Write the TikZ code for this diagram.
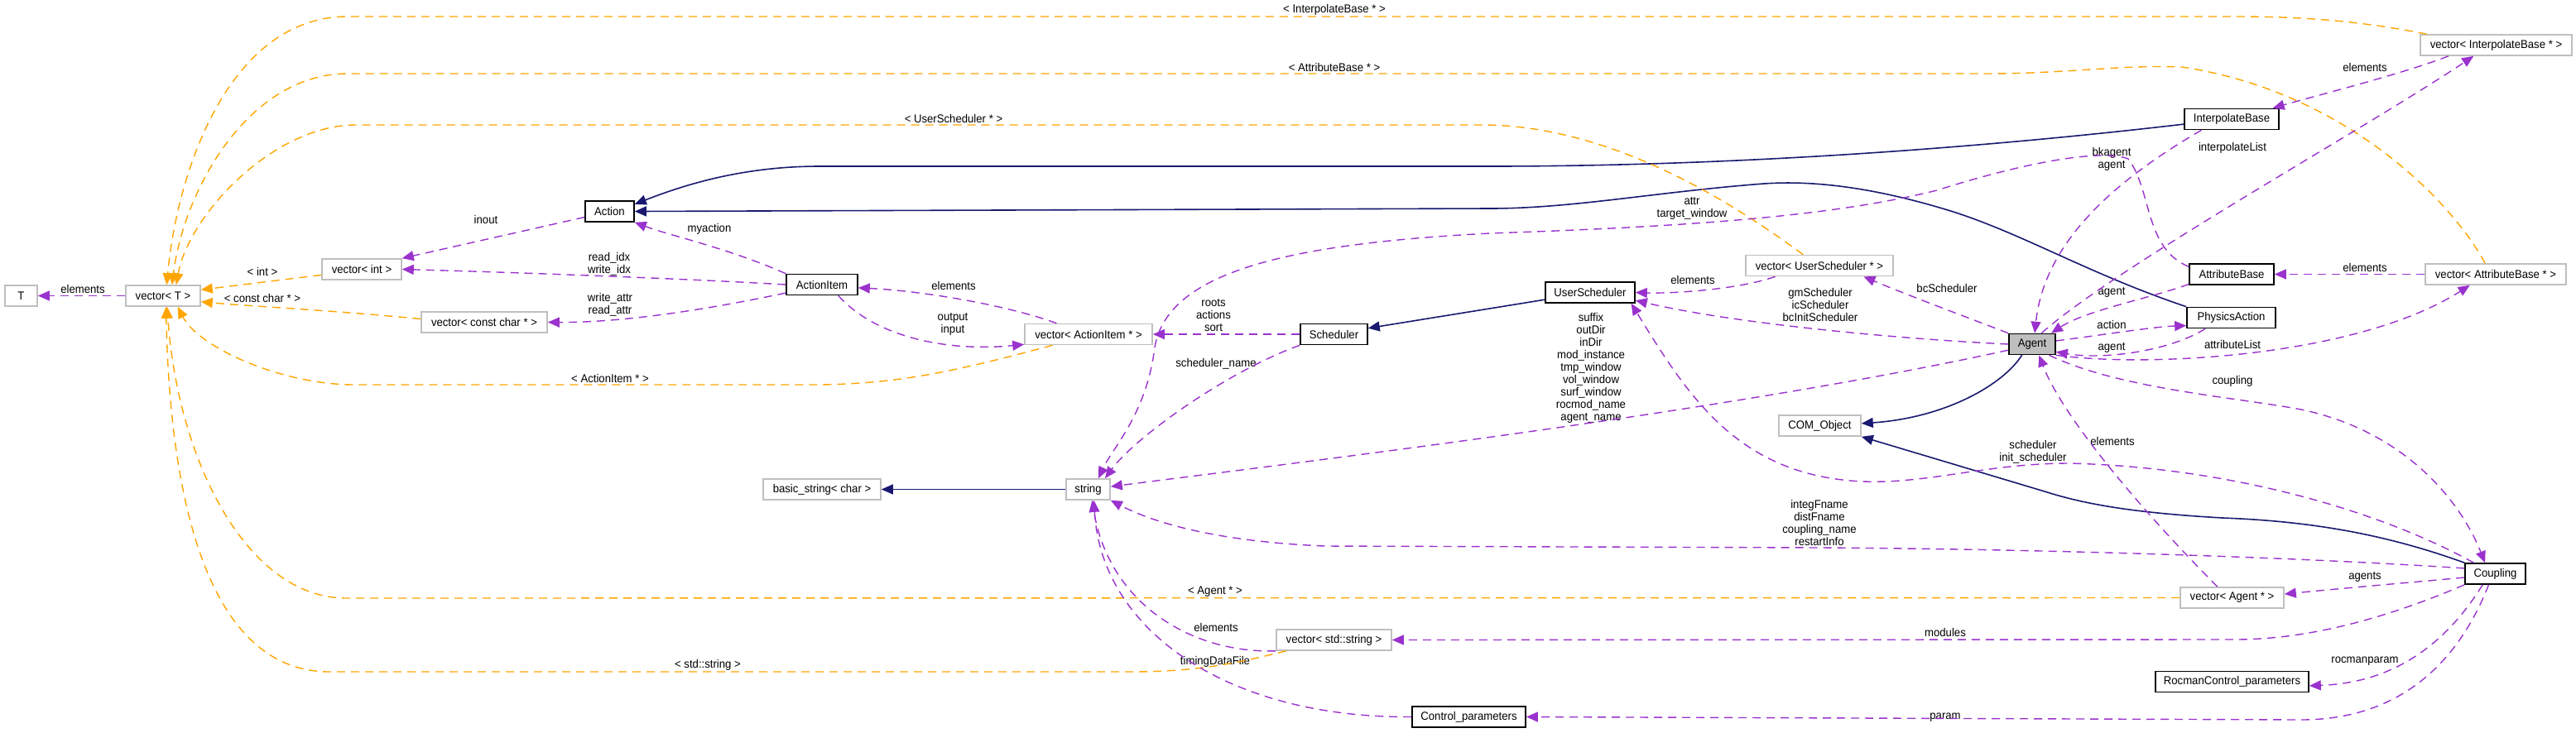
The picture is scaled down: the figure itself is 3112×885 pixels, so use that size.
\documentclass[tikz,border=0pt]{standalone}
\usepackage{fontspec}
\setmainfont{Liberation Sans}[FakeStretch=0.94]
\usetikzlibrary{arrows.meta}
\definecolor{navy}{HTML}{191970}
\definecolor{orch}{HTML}{9A32CD}
\definecolor{orng}{HTML}{FFA500}
\definecolor{gbord}{HTML}{BFBFBF}
\newcommand{\lblfont}{\fontsize{7}{7.5}\selectfont}
\tikzset{
  cls/.style={draw=black, line width=0.8pt, fill=white, minimum height=12.5pt, inner sep=0pt, font=\lblfont},
  ucls/.style={cls, draw=gbord},
  lab/.style={font=\lblfont, align=center, inner sep=0pt},
  inh/.style={draw=navy, line width=0.8pt, -{Triangle[length=7pt,width=6pt]}},
  use/.style={draw=orch, line width=0.7pt, dash pattern=on 5pt off 3.5pt, -{Triangle[length=7pt,width=6pt]}},
  tmpl/.style={draw=orng, line width=0.7pt, dash pattern=on 5pt off 3.5pt, -{Triangle[length=7pt,width=6pt]}},
}
\begin{document}
\begin{tikzpicture}[x=0.5pt,y=-0.5pt]
\useasboundingbox (0,0) rectangle (3112,885);
% nodes
\node[ucls, minimum width=19.5pt] (T) at (25.5,357.5) {T};
\node[ucls, minimum width=45pt] (vT) at (197,357.5) {vector< T >};
\node[ucls, minimum width=48pt] (vint) at (437,325.5) {vector< int >};
\node[ucls, minimum width=76pt] (vcc) at (585,389.5) {vector< const char * >};
\node[cls, minimum width=29.5pt] (Action) at (736.5,255.5) {Action};
\node[cls, minimum width=43pt] (AI) at (993,344) {ActionItem};
\node[ucls, minimum width=77pt] (vAI) at (1315,404) {vector< ActionItem * >};
\node[cls, minimum width=40.5pt] (Sched) at (1611.5,404) {Scheduler};
\node[cls, minimum width=54pt] (US) at (1921,353.5) {UserScheduler};
\node[ucls, minimum width=89pt] (vUS) at (2198,321) {vector< UserScheduler * >};
\node[ucls, minimum width=71pt] (bstr) at (993,591.5) {basic\_string< char >};
\node[ucls, minimum width=26.5pt] (str) at (1314.5,591.5) {string};
\node[ucls, minimum width=69.5pt] (vstr) at (1611.5,773.5) {vector< std::string >};
\node[cls, minimum width=68.5pt] (CP) at (1774.5,866.5) {Control\_parameters};
\node[ucls, minimum width=49.5pt] (COM) at (2198.5,514.5) {COM\_Object};
\node[cls, fill=gbord, minimum width=28pt] (Agent) at (2455,416) {Agent};
\node[cls, minimum width=57pt] (IB) at (2696,144) {InterpolateBase};
\node[cls, minimum width=51pt] (AB) at (2696,331.5) {AttributeBase};
\node[cls, minimum width=53.5pt] (PA) at (2695.5,384) {PhysicsAction};
\node[ucls, minimum width=91.5pt] (vIB) at (3015.5,54.5) {vector< InterpolateBase * >};
\node[ucls, minimum width=85pt] (vAB) at (3015,331.5) {vector< AttributeBase * >};
\node[ucls, minimum width=62.5pt] (vAg) at (2696.5,722.5) {vector< Agent * >};
\node[cls, minimum width=92.5pt] (RCP) at (2696.5,824) {RocmanControl\_parameters};
\node[cls, minimum width=36.5pt] (Coup) at (3014.5,693.5) {Coupling};
% labels
\node[lab] (l1) at (100,349) {elements};
\node[lab] (l2) at (317,328) {< int >};
\node[lab] (l3) at (317,360) {< const char * >};
\node[lab] (l4) at (587,265) {inout};
\node[lab] (l5) at (736,319.5) {read\_idx\\write\_idx};
\node[lab] (l6) at (737,368.5) {write\_attr\\read\_attr};
\node[lab] (l7) at (857,277) {myaction};
\node[lab] (l8) at (1152,345) {elements};
\node[lab] (l9) at (1151,392) {output\\input};
\node[lab] (l10) at (1466,381.5) {roots\\actions\\sort};
\node[lab] (l11) at (1469,440) {scheduler\_name};
\node[lab] (l12) at (1612,12) {< InterpolateBase * >};
\node[lab] (l13) at (1612,81) {< AttributeBase * >};
\node[lab] (l14) at (1152,143) {< UserScheduler * >};
\node[lab] (l15) at (737,457) {< ActionItem * >};
\node[lab] (l16) at (1468,715) {< Agent * >};
\node[lab] (l17) at (855,804) {< std::string >};
\node[lab] (l18) at (2044,252) {attr\\target\_window};
\node[lab] (l19) at (2045,338) {elements};
\node[lab] (l20) at (2199,368) {gmScheduler\\icScheduler\\bcInitScheduler};
\node[lab] (l21) at (2352,348) {bcScheduler};
\node[lab] (l22) at (1922,445) {suffix\\outDir\\inDir\\mod\_instance\\tmp\_window\\vol\_window\\surf\_window\\rocmod\_name\\agent\_name};
\node[lab] (l23) at (2198,632) {integFname\\distFname\\coupling\_name\\restartInfo};
\node[lab] (l24) at (1469,758) {elements};
\node[lab] (l25) at (1468,800) {timingDataFile};
\node[lab] (l26) at (2350,764) {modules};
\node[lab] (l27) at (2350,867) {param};
\node[lab] (l28) at (2857,81) {elements};
\node[lab] (l29) at (2697,179) {interpolateList};
\node[lab] (l30) at (2551,192) {bkagent\\agent};
\node[lab] (l31) at (2857,323) {elements};
\node[lab] (l32) at (2551,353) {agent};
\node[lab] (l33) at (2551,392) {action};
\node[lab] (l34) at (2551,420) {agent};
\node[lab] (l35) at (2697,416) {attributeList};
\node[lab] (l36) at (2697,461) {coupling};
\node[lab] (l37) at (2552,533) {elements};
\node[lab] (l38) at (2456,546.5) {scheduler\\init\_scheduler};
\node[lab] (l39) at (2857,697) {agents};
\node[lab] (l40) at (2857,799) {rocmanparam};
% inheritance
\draw[inh] (IB.-174) .. controls (2400,178) and (2100,201) .. (1800,201) -- (990,201) .. controls (900,201) and (830,222) .. (Action.16);
\draw[inh] (PA.north west) .. controls (2520,330) and (2440,280) .. (2350,253) .. controls (2260,226) and (2190,218) .. (2131,222) .. controls (2000,232) and (1900,252) .. (1800,252) -- (Action.east);
\draw[inh] (Agent.-133) .. controls (2420,465) and (2350,505) .. (COM.3);
\draw[inh] (Coup.north west) .. controls (2880,645) and (2790,630) .. (2685,626) .. controls (2580,620) and (2520,610) .. (2470,594) -- (COM.south east);
\draw[inh] (US.-171) -- (Sched.10);
\draw[inh] (str.west) -- (bstr.east);
% templates
\draw[tmpl] (vIB.171) .. controls (2850,25) and (2780,20) .. (2700,20) -- (420,20) .. controls (280,20) and (215,200) .. (vT.72);
\draw[tmpl] (vAB.134) .. controls (2960,240) and (2830,110) .. (2636,81) .. controls (2560,78) and (2500,89) .. (2400,89) -- (420,89) .. controls (300,89) and (222,230) .. (vT.51);
\draw[tmpl] (vUS.146) .. controls (2100,250) and (1950,151) .. (1790,151) -- (430,151) .. controls (330,151) and (228,260) .. (vT.40);
\draw[tmpl] (vint.-172) -- (vT.9);
\draw[tmpl] (vcc.177) .. controls (400,375) and (300,370) .. (vT.-9);
\draw[tmpl] (vAI.-163) .. controls (1150,450) and (1080,465) .. (980,465) -- (428,465) .. controls (340,465) and (240,420) .. (vT.-37);
\draw[tmpl] (vAg.west) -- (418,723) .. controls (300,723) and (215,560) .. (vT.-70);
\draw[tmpl] (vstr.-167) .. controls (1500,800) and (1450,812) .. (1367,812) -- (398,812) .. controls (250,812) and (205,600) .. (vT.-75);
% usage
\draw[use] (vT.west) -- (T.east);
\draw[use] (Action.-167) -- (vint.north east);
\draw[use] (AI.west) .. controls (850,338) and (650,330) .. (vint.east);
\draw[use] (AI.-167) .. controls (850,375) and (750,390) .. (vcc.east);
\draw[use] (AI.north west) .. controls (880,300) and (810,285) .. (Action.south east);
\draw[use] (vAI.161) .. controls (1220,370) and (1120,352) .. (AI.-5);
\draw[use] (AI.-34) .. controls (1060,410) and (1150,425) .. (vAI.-171);
\draw[use] (Sched.west) -- (vAI.east);
\draw[use] (Sched.south west) .. controls (1480,450) and (1370,530) .. (str.33);
\draw[use] (vUS.-166) .. controls (2100,350) and (2020,355) .. (US.east);
\draw[use] (Agent.west) .. controls (2300,410) and (2100,392) .. (US.-10);
\draw[use] (Coup.153) .. controls (2880,620) and (2700,565) .. (2500,560) .. controls (2400,560) and (2330,585) .. (2250,582) .. controls (2100,575) and (2040,480) .. (US.-15);
\draw[use] (Agent.north west) .. controls (2380,385) and (2300,355) .. (vUS.-14);
\draw[use] (Agent.-166) .. controls (2100,495) and (1600,555) .. (str.7);
\draw[use] (Agent.8) .. controls (2540,405) and (2600,395) .. (PA.-170);
\draw[use] (PA.-157) .. controls (2620,425) and (2540,435) .. (Agent.-18);
\draw[use] (AB.-167) .. controls (2600,360) and (2520,375) .. (Agent.30);
\draw[use] (IB.-160) .. controls (2560,215) and (2470,290) .. (Agent.77);
\draw[use] (AB.170) .. controls (2590,300) and (2600,230) .. (2571,192) .. controls (2540,180) and (2450,195) .. (2340,230) .. controls (2200,265) and (2000,275) .. (1800,282) .. controls (1550,295) and (1410,330) .. (1395,420) .. controls (1385,500) and (1345,540) .. (str.47);
\draw[use] (Agent.50) .. controls (2560,320) and (2850,160) .. (vIB.-154);
\draw[use] (vIB.-167) .. controls (2900,90) and (2800,115) .. (IB.15);
\draw[use] (vAB.west) -- (AB.east);
\draw[use] (Agent.south east) .. controls (2600,445) and (2850,430) .. (vAB.-157);
\draw[use] (Agent.-33) .. controls (2560,470) and (2700,480) .. (2780,495) .. controls (2900,520) and (2970,600) .. (Coup.133);
\draw[use] (vAg.143) .. controls (2580,610) and (2490,500) .. (Agent.-58);
\draw[use] (Coup.-173) .. controls (2900,705) and (2820,712) .. (vAg.4);
\draw[use] (Coup.south west) .. controls (2900,740) and (2800,773) .. (2700,773) -- (vstr.east);
\draw[use] (Coup.-139) .. controls (2960,770) and (2900,825) .. (RCP.-3);
\draw[use] (Coup.-121) .. controls (2970,800) and (2900,870) .. (2780,870) -- (CP.east);
\draw[use] (CP.west) .. controls (1480,868) and (1330,760) .. (str.-62);
\draw[use] (vstr.south west) .. controls (1440,790) and (1340,730) .. (str.-70);
\draw[use] (Coup.170) .. controls (2800,675) and (2500,664) .. (2200,662) -- (1600,660) .. controls (1480,655) and (1400,635) .. (str.south east);
\end{tikzpicture}
\end{document}
